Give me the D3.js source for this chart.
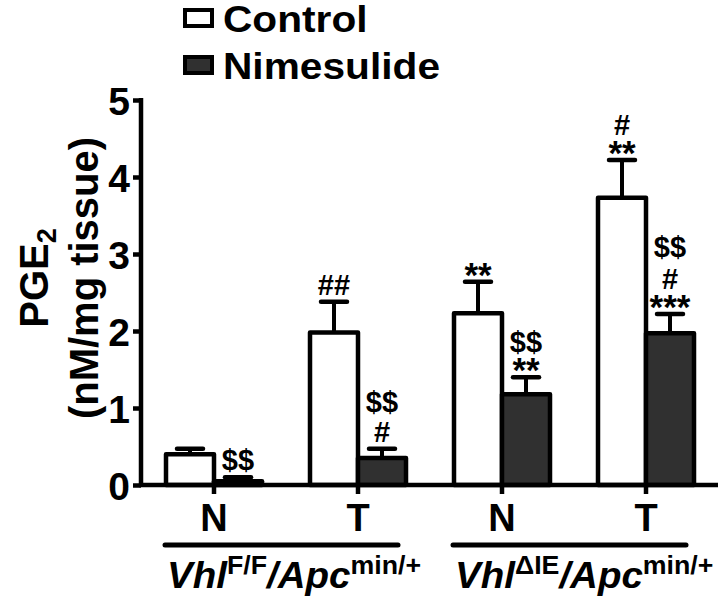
<!DOCTYPE html>
<html lang="en">
<head>
  <meta charset="UTF-8">
  <title>PGE2 levels</title>
  <script src="https://d3js.org/d3.v7.min.js"></script>
  <style>
    body {
      margin: 0;
      padding: 0;
      background: #fff;
      font-family: "Liberation Sans", Arial, sans-serif;
    }
    text {
      font-family: "Liberation Sans", Arial, sans-serif;
      font-weight: bold;
      fill: #000;
    }
  </style>
</head>
<body>
  <div id="chart"></div>

  <script>
    // data
    const categories = ["N1", "T1", "N2", "T2"];
    const tickLabels = ["N", "T", "N", "T"];
    const series = ["Control", "Nimesulide"];
    const controlMean = [0.40, 1.98, 2.23, 3.73];
    const controlErr = [0.07, 0.40, 0.41, 0.49];
    const nimMean = [0.05, 0.35, 1.18, 1.97];
    const nimErr = [0.05, 0.12, 0.22, 0.25];
    // significance marks, listed from the bar upward
    const controlMarks = [[], ["##"], ["**"], ["**", "#"]];
    const nimMarks = [["$$"], ["#", "$$"], ["**", "$$"], ["***", "#", "$$"]];
    const groups = [
      { main: "Vhl", sup1: "F/F", main2: "/Apc", sup2: "min/+", cats: ["N1", "T1"] },
      { main: "Vhl", sup1: "\u0394IE", main2: "/Apc", sup2: "min/+", cats: ["N2", "T2"] }
    ];
    const yTicks = [0, 1, 2, 3, 4, 5];

    const width = 720;
    const height = 597;
    const fills = { Control: "#ffffff", Nimesulide: "#303030" };

    const svg = d3.select("#chart")
                  .append("svg")
                  .attr("width", width)
                  .attr("height", height);

    const x0 = d3.scaleBand()
                 .domain(categories)
                 .range([142, 718])
                 .paddingInner(1 / 3)
                 .paddingOuter(1 / 6);

    const x1 = d3.scaleBand()
                 .domain(series)
                 .range([0, x0.bandwidth()]);

    const y = d3.scaleLinear()
                .domain([0, 5])
                .range([485, 100]);

    const rows = [];
    categories.forEach((c, i) => {
      rows.push({ cat: c, s: "Control", v: controlMean[i], e: controlErr[i], marks: controlMarks[i] });
      rows.push({ cat: c, s: "Nimesulide", v: nimMean[i], e: nimErr[i], marks: nimMarks[i] });
    });

    const bx = d => x0(d.cat) + x1(d.s);
    const cx = d => bx(d) + x1.bandwidth() / 2;

    // error bars (upper only)
    svg.selectAll(".err")
       .data(rows)
       .enter()
       .append("line")
       .attr("x1", cx).attr("x2", cx)
       .attr("y1", d => y(d.v)).attr("y2", d => y(d.v + d.e))
       .attr("stroke", "#000").attr("stroke-width", 4);

    svg.selectAll(".cap")
       .data(rows)
       .enter()
       .append("line")
       .attr("x1", d => cx(d) - 13).attr("x2", d => cx(d) + 13)
       .attr("y1", d => y(d.v + d.e)).attr("y2", d => y(d.v + d.e))
       .attr("stroke", "#000").attr("stroke-width", 4.5)
       .attr("stroke-linecap", "round");

    // bars
    svg.selectAll(".bar")
       .data(rows)
       .enter()
       .append("rect")
       .attr("x", bx)
       .attr("width", x1.bandwidth())
       .attr("y", d => y(d.v))
       .attr("height", d => y(0) - y(d.v))
       .attr("fill", d => fills[d.s])
       .attr("stroke", "#000")
       .attr("stroke-width", 4.5)
       .attr("stroke-linejoin", "round");

    // significance marks
    rows.forEach(d => {
      const capY = y(d.v + d.e);
      const starFirst = d.marks.length && d.marks[0].startsWith("*");
      d.marks.forEach((m, k) => {
        let yy;
        if (starFirst) yy = k === 0 ? capY + 5 : capY - 25 - (k - 1) * 32;
        else yy = capY - 7 - k * 30;
        svg.append("text")
           .attr("x", cx(d))
           .attr("y", yy)
           .attr("text-anchor", "middle")
           .style("font-size", m.startsWith("*") ? "35px" : "29px")
           .text(m);
      });
    });

    // y axis
    const yAxis = svg.append("g")
       .attr("transform", "translate(141,0)")
       .call(d3.axisLeft(y).tickValues(yTicks).tickFormat(d3.format("d")).tickSizeOuter(0).tickSize(8).tickPadding(3));
    yAxis.select(".domain").attr("stroke-width", 4.5).attr("d", `M0,${y(5) - 2}V${y(0)}`);
    yAxis.selectAll(".tick line").attr("stroke-width", 4.5);
    yAxis.selectAll(".tick text").style("font-size", "39px").style("font-family", "Liberation Sans, Arial, sans-serif").attr("dy", "0.36em");

    // x axis
    svg.append("line")
       .attr("x1", 139).attr("x2", 718)
       .attr("y1", y(0)).attr("y2", y(0))
       .attr("stroke", "#000").attr("stroke-width", 4.5);

    const xAxis = svg.append("g")
       .attr("transform", `translate(0,${y(0)})`)
       .call(d3.axisBottom(x0).tickSize(9).tickSizeOuter(0).tickFormat((d, i) => tickLabels[i]).tickPadding(10));
    xAxis.select(".domain").remove();
    xAxis.selectAll(".tick line").attr("stroke-width", 4.5);
    xAxis.selectAll(".tick text").style("font-size", "38px").style("font-family", "Liberation Sans, Arial, sans-serif").attr("dy", "0.71em");

    // group brackets and labels
    groups.forEach(g => {
      const left = x0(g.cats[0]);
      const right = x0(g.cats[1]) + x0.bandwidth();
      svg.append("line")
         .attr("x1", left - 1).attr("x2", right - 8)
         .attr("y1", 545).attr("y2", 545)
         .attr("stroke", "#000").attr("stroke-width", 5)
         .attr("stroke-linecap", "round");
      const gl = svg.append("g")
         .attr("transform", `translate(${left + 1},588) scale(1.07,1)`);
      const t = gl.append("text")
         .attr("x", 0).attr("y", 0)
         .style("font-size", "36px");
      t.append("tspan").style("font-style", "italic").text(g.main);
      t.append("tspan").attr("dy", -14).style("font-size", "25px").text(g.sup1);
      t.append("tspan").attr("dy", 14).style("font-style", "italic").text(g.main2);
      t.append("tspan").attr("dy", -14).style("font-size", "25px").text(g.sup2);
    });

    // y label
    const yl = svg.append("g").attr("transform", "translate(0,278) rotate(-90)");
    const t1 = yl.append("text")
       .attr("x", 0).attr("y", 48)
       .attr("text-anchor", "middle")
       .style("font-size", "40px");
    t1.append("tspan").text("PGE");
    t1.append("tspan").attr("dy", 8).style("font-size", "27px").text("2");
    yl.append("text")
       .attr("x", 0).attr("y", 98)
       .attr("text-anchor", "middle")
       .style("font-size", "40px")
       .text("(nM/mg tissue)");

    // legend
    const legend = svg.append("g");
    series.forEach((s, i) => {
      legend.append("rect")
            .attr("x", 185).attr("y", 10 + i * 47)
            .attr("width", 27).attr("height", 16)
            .attr("fill", fills[s])
            .attr("stroke", "#000").attr("stroke-width", 4);
      legend.append("g")
            .attr("transform", `translate(223,${32 + i * 47}) scale(1.13,1)`)
            .append("text")
            .attr("x", 0).attr("y", 0)
            .style("font-size", "36px")
            .text(s);
    });
  </script>
</body>
</html>
